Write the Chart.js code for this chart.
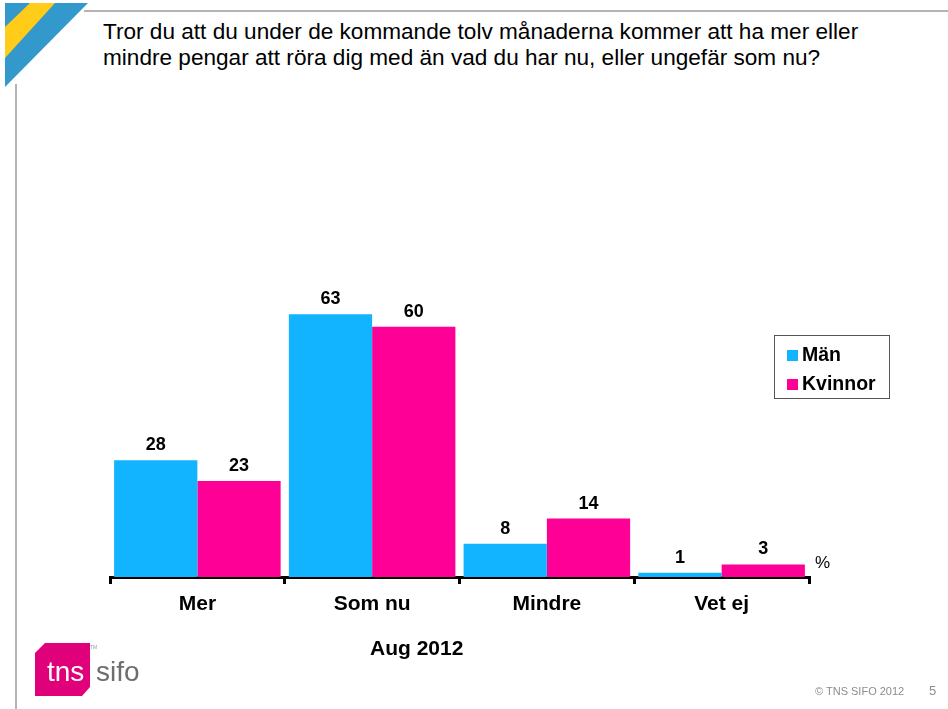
<!DOCTYPE html>
<html>
<head>
<meta charset="utf-8">
<script src="https://cdn.jsdelivr.net/npm/chart.js@4.4.0/dist/chart.umd.min.js"></script>
<style>
    html, body { margin: 0; padding: 0; background: #fff; }
    body { width: 948px; height: 709px; position: relative; overflow: hidden; font-family: Arial, "Liberation Sans", sans-serif; }
    #chartWrap { position: absolute; left: 0; top: 0; width: 948px; height: 709px; }
    .frame-top { position: absolute; left: 84px; top: 10px; width: 864px; height: 2px; background: #b4b4b4; }
    .frame-left { position: absolute; left: 15px; top: 84px; width: 2px; height: 625px; background: #b4b4b4; }
    .corner { position: absolute; left: 0; top: 0; }
    .title { position: absolute; left: 103px; top: 19px; font-size: 22.6px; line-height: 26px; color: #000; white-space: nowrap; }
    .period { position: absolute; left: 370px; top: 636px; font-size: 21px; font-weight: bold; }
    .unit { position: absolute; left: 815px; top: 553px; font-size: 17px; }
    .logo { position: absolute; left: 35px; top: 643px; }
    .footer { position: absolute; left: 815px; top: 685px; font-size: 11px; color: #8c8c8c; }
    .page { position: absolute; left: 929px; top: 683px; font-size: 13px; color: #8c8c8c; }
</style>
</head>
<body>
<div class="frame-top"></div>
<div class="frame-left"></div>
<svg class="corner" width="90" height="90">
    <polygon points="5,3 88,3 5,87" fill="#3399cc"/>
    <polygon points="30,3 55,3 5,58 5,27" fill="#ffcc1a"/>
</svg>
<div class="title">Tror du att du under de kommande tolv månaderna kommer att ha mer eller<br>mindre pengar att röra dig med än vad du har nu, eller ungefär som nu?</div>
<div id="chartWrap"><canvas id="barChart" width="948" height="709"></canvas></div>
<div class="unit">%</div>
<div class="period">Aug 2012</div>
<svg class="logo" width="115" height="56">
    <polygon points="10,0 55,0 55,44 47,53 0,53 0,10" fill="#e0007a"/>
    <text x="12" y="38" font-family="Arial" font-size="28" fill="#fff">tns</text>
    <text x="61" y="38" font-family="Arial" font-size="28" fill="#6d6d6d">sifo</text>
    <text x="55" y="6" font-family="Arial" font-size="5" fill="#999">TM</text>
</svg>
<div class="footer">© TNS SIFO 2012</div>
<div class="page">5</div>

<script>
const categories = ['Mer', 'Som nu', 'Mindre', 'Vet ej'];
const seriesNames = ['Män', 'Kvinnor'];
const manValues = [28, 63, 8, 1];
const kvinnorValues = [23, 60, 14, 3];
const seriesColors = ['#12b4ff', '#ff0096'];

// value labels above each bar
const valueLabels = {
    id: 'valueLabels',
    afterDatasetsDraw(chart) {
        const ctx = chart.ctx;
        ctx.save();
        ctx.font = 'bold 18px Arial';
        ctx.fillStyle = '#000';
        ctx.textAlign = 'center';
        ctx.textBaseline = 'bottom';
        chart.data.datasets.forEach((ds, i) => {
            chart.getDatasetMeta(i).data.forEach((bar, j) => {
                ctx.fillText(ds.data[j], bar.x, bar.y - 6);
            });
        });
        ctx.restore();
    }
};

// boxed legend on the right
const boxLegend = {
    id: 'boxLegend',
    afterDraw(chart) {
        const ctx = chart.ctx;
        const x = 774.5, y = 335.5, w = 115, h = 63;
        ctx.save();
        ctx.strokeStyle = '#555';
        ctx.lineWidth = 1;
        ctx.strokeRect(x, y, w, h);
        ctx.font = 'bold 19.5px Arial';
        ctx.textBaseline = 'middle';
        ctx.textAlign = 'left';
        chart.data.datasets.forEach((ds, i) => {
            const cy = 355 + i * 29;
            ctx.fillStyle = ds.backgroundColor;
            ctx.fillRect(787, cy - 5, 11, 11);
            ctx.fillStyle = '#000';
            ctx.fillText(ds.label, 802, cy + 1);
        });
        ctx.restore();
    }
};

class BarChart {
    constructor() {
        this.ctx = document.getElementById('barChart').getContext('2d');
        this.create();
    }

    create() {
        this.chart = new Chart(this.ctx, {
            type: 'bar',
            data: {
                labels: categories,
                datasets: [
                    { label: seriesNames[0], data: manValues, backgroundColor: seriesColors[0] },
                    { label: seriesNames[1], data: kvinnorValues, backgroundColor: seriesColors[1] }
                ]
            },
            options: {
                responsive: false,
                animation: false,
                categoryPercentage: 0.953,
                barPercentage: 1,
                layout: { padding: { left: 110, right: 139, top: 160, bottom: 92 } },
                plugins: {
                    legend: { display: false },
                    tooltip: { enabled: false }
                },
                scales: {
                    x: {
                        afterFit(axis) { axis.height = 40; },
                        border: { display: true, color: '#000', width: 3 },
                        grid: {
                            drawOnChartArea: false,
                            drawTicks: true,
                            tickLength: 7,
                            color: '#000',
                            lineWidth: 3,
                            offset: true
                        },
                        ticks: {
                            color: '#000',
                            font: { family: 'Arial', size: 21, weight: 'bold' },
                            padding: 8
                        }
                    },
                    y: {
                        display: false,
                        min: 0,
                        max: 100
                    }
                }
            },
            plugins: [valueLabels, boxLegend]
        });
    }
}

document.addEventListener('DOMContentLoaded', () => {
    window.barChart = new BarChart();
});
</script>
</body>
</html>
